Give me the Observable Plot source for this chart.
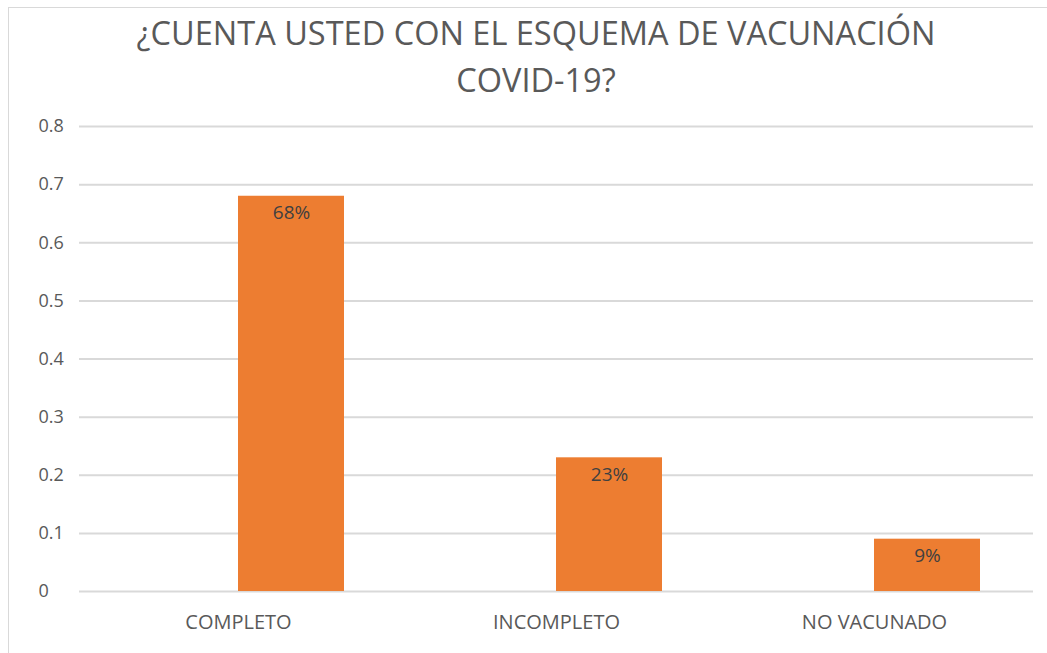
<!DOCTYPE html>
<html>
<head>
<meta charset="utf-8">
<script src="https://cdn.jsdelivr.net/npm/d3@7"></script>
<script src="https://cdn.jsdelivr.net/npm/@observablehq/plot@0.6"></script>
<style>
  body { margin: 0; background: #fff; width: 1047px; height: 653px; overflow: hidden; position: relative; font-family: "Open Sans", sans-serif; }
  #frame { position: absolute; left: 8px; top: 7px; width: 1100px; height: 700px; border-left: 1px solid #d9d9d9; border-top: 1px solid #d9d9d9; }
  #title { position: absolute; left: 0; top: 9px; width: 1072px; text-align: center; font-size: 32.5px; line-height: 47px; color: #595959; }
  #chart { position: absolute; left: 0; top: 104px; }
</style>
</head>
<body>
<div id="frame"></div>
<div id="title">¿CUENTA USTED CON EL ESQUEMA DE VACUNACIÓN<br>COVID-19?</div>
<div id="chart"></div>
<script>
const categories = ["COMPLETO", "INCOMPLETO", "NO VACUNADO"];
const values = [0.68, 0.23, 0.09];
const valueLabels = ["68%", "23%", "9%"];
const seriesNames = ["Serie vacía", "Serie 1"];
const yTicks = [0, 0.1, 0.2, 0.3, 0.4, 0.5, 0.6, 0.7, 0.8];

const data = categories.map((c, i) => ({cat: c, series: seriesNames[1], value: values[i], label: valueLabels[i]}));

const chart = Plot.plot({
  width: 1047,
  height: 540,
  marginLeft: 78,
  marginRight: 13,
  marginTop: 22,
  marginBottom: 53,
  style: {fontFamily: "'Open Sans', sans-serif", background: "transparent"},
  fx: {domain: categories, padding: 0, label: null},
  x: {domain: seriesNames, axis: null, paddingInner: 0, paddingOuter: 0.5},
  y: {domain: [0, 0.8], label: null},
  marks: [
    Plot.gridY({ticks: yTicks, stroke: "#d9d9d9", strokeOpacity: 1, strokeWidth: 2}),
    Plot.axisY({ticks: yTicks, tickSize: 0, tickPadding: 41, textAnchor: "start", fontSize: 18, fill: "#595959", label: null, tickFormat: d => d === 0 ? "0" : d3.format(".1f")(d)}),
    Plot.axisFx({anchor: "bottom", tickSize: 0, tickPadding: 23, fontSize: 20, fill: "#595959", label: null}),
    Plot.barY(data, {fx: "cat", x: "series", y: "value", fill: "#ED7D31"}),
    Plot.text(data, {fx: "cat", x: "series", y: "value", text: "label", dy: 17, fontSize: 19, fill: "#404040"})
  ]
});
document.getElementById("chart").appendChild(chart);
</script>
</body>
</html>
